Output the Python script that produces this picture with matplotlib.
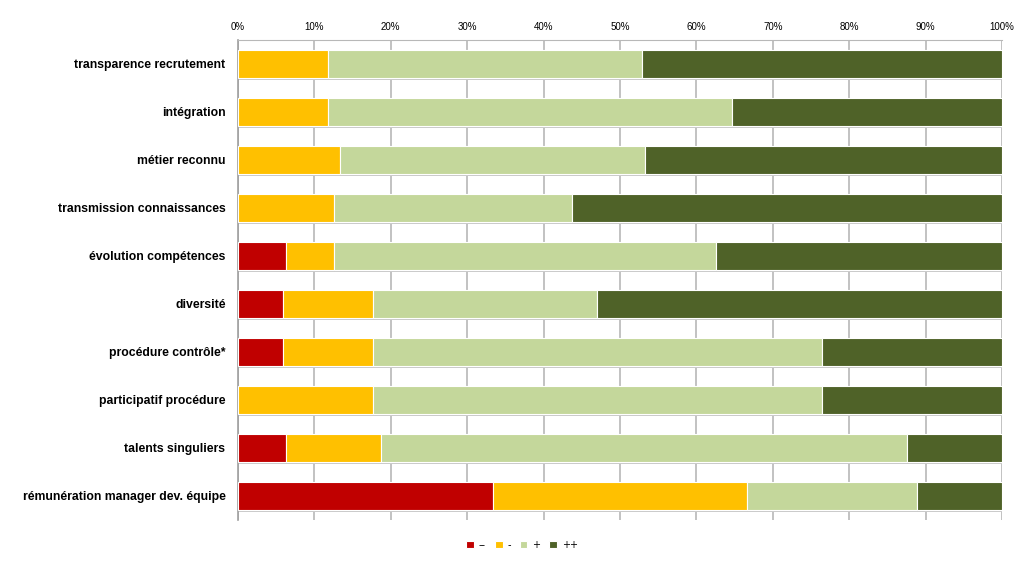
import matplotlib.pyplot as plt
import numpy as np
from matplotlib.ticker import PercentFormatter

plt.rc('font', family='Liberation Sans')

categories = ['transparence recrutement', 'intégration', 'métier reconnu',
              'transmission connaissances', 'évolution compétences', 'diversité',
              'procédure contrôle*', 'participatif procédure', 'talents singuliers',
              'rémunération manager dev. équipe']

# shares in % for each answer level, one value per category
very_neg = [0.0, 0.0, 0.0, 0.0, 6.25, 5.88, 5.88, 0.0, 6.25, 33.33]
neg = [11.76, 11.76, 13.33, 12.5, 6.25, 11.76, 11.76, 17.65, 12.5, 33.33]
pos = [41.18, 52.94, 40.0, 31.25, 50.0, 29.41, 58.82, 58.82, 68.75, 22.22]
very_pos = [47.06, 35.29, 46.67, 56.25, 37.5, 52.94, 23.53, 23.53, 12.5, 11.11]

series_labels = ['--', '-', '+', '++']
colors = ['#C00000', '#FFC000', '#C4D79B', '#4F6228']

fig = plt.figure(figsize=(10.23, 5.64), dpi=100)
ax = fig.add_axes([238/1023, 1 - 520/564, 764/1023, 480/564])

y = np.arange(len(categories))
left = np.zeros(len(categories))
for vals, lab, col in zip([very_neg, neg, pos, very_pos], series_labels, colors):
    vals = np.array(vals)
    # light shadow under the bars
    ax.barh(y + 0.05, vals, left=left, height=0.57, color='#C8C8C8', zorder=2,
            linewidth=0)
    ax.barh(y, vals, left=left, height=0.57, color=col, edgecolor='white',
            linewidth=0.8, label=lab, zorder=3)
    left += vals

ax.set_xlim(0, 100)
ax.set_ylim(len(categories) - 0.5, -0.5)
ax.set_yticks(y)
ax.set_yticklabels(categories, fontweight='bold', fontsize=8.8)
ax.tick_params(axis='y', length=0, pad=9)

ax.xaxis.tick_top()
ax.set_xticks(np.arange(0, 101, 10))
ax.xaxis.set_major_formatter(PercentFormatter(decimals=0))
ax.tick_params(axis='x', length=0, labelsize=7, pad=6)
ax.grid(axis='x', color='#B8B8B8', linewidth=1.2, zorder=0)
ax.set_axisbelow(True)

for side in ['right', 'bottom']:
    ax.spines[side].set_visible(False)
ax.spines['top'].set_color('#B8B8B8')
ax.spines['left'].set_color('#A0A0A0')
ax.spines['left'].set_linewidth(1.2)

handles, labels = ax.get_legend_handles_labels()
leg = fig.legend(handles, labels, loc='center', bbox_to_anchor=(522/1023, 1 - 545/564),
                 ncol=4, frameon=False, fontsize=7, handlelength=0.8, handleheight=0.8,
                 handletextpad=0.5, columnspacing=0.9)
for t in leg.get_texts():
    t.set_family('DejaVu Sans')

fig.savefig('out.png', dpi=100)
